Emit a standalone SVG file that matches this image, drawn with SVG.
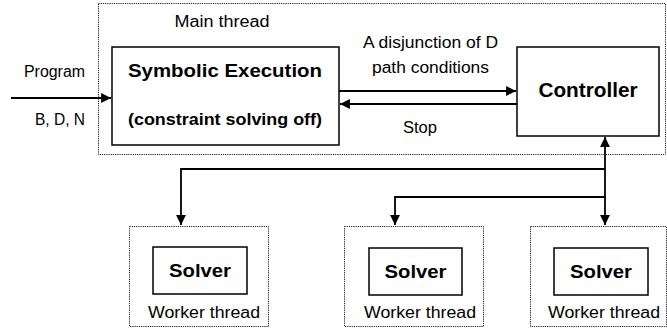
<svg xmlns="http://www.w3.org/2000/svg" width="667" height="331" viewBox="0 0 667 331">
<style>
.bg{fill:#ffffff}
.dot{fill:none;stroke:#222;stroke-width:1;stroke-dasharray:1.2,1}
.box{fill:#ffffff;stroke:#000;stroke-width:1.5}
.ln{fill:none;stroke:#000;stroke-width:1.8}
.t{font-family:"Liberation Sans",Arial,sans-serif;font-size:16px;fill:#000}
.b{font-family:"Liberation Sans",Arial,sans-serif;font-weight:bold;fill:#000}
</style>
<defs>
<marker id="ah" viewBox="0 0 10 10" refX="10" refY="5" markerWidth="5.5" markerHeight="5.5" orient="auto-start-reverse" markerUnits="strokeWidth">
<path d="M0,0 L10,5 L0,10 z" fill="#000"/>
</marker>
</defs>
<rect class="bg" x="0" y="0" width="667" height="331"/>
<g id="main-thread">
<rect class="dot" x="98.5" y="3.5" width="567" height="151"/>
<text class="t" x="222" y="27" text-anchor="middle" textLength="95" lengthAdjust="spacingAndGlyphs">Main thread</text>
</g>
<g id="symbolic-execution">
<rect class="box" x="112" y="47" width="227" height="98"/>
<text class="b" x="225" y="77" font-size="19" text-anchor="middle" textLength="194" lengthAdjust="spacingAndGlyphs">Symbolic Execution</text>
<text class="b" x="225" y="125" font-size="16" text-anchor="middle" textLength="194" lengthAdjust="spacingAndGlyphs">(constraint solving off)</text>
</g>
<g id="controller">
<rect class="box" x="517" y="47" width="142" height="89"/>
<text class="b" x="588" y="97" font-size="20" text-anchor="middle" textLength="99" lengthAdjust="spacingAndGlyphs">Controller</text>
</g>
<g id="worker1">
<rect class="dot" x="129.5" y="226.5" width="139" height="100"/>
<rect class="box" x="153" y="247" width="94" height="47"/>
<text class="b" x="200" y="277" font-size="19" text-anchor="middle" textLength="62" lengthAdjust="spacingAndGlyphs">Solver</text>
<text class="t" x="204" y="318" text-anchor="middle" textLength="112" lengthAdjust="spacingAndGlyphs">Worker thread</text>
</g>
<g id="worker2">
<rect class="dot" x="344.5" y="226.5" width="139" height="100"/>
<rect class="box" x="369" y="248" width="93" height="47"/>
<text class="b" x="415.5" y="278" font-size="19" text-anchor="middle" textLength="62" lengthAdjust="spacingAndGlyphs">Solver</text>
<text class="t" x="420" y="318" text-anchor="middle" textLength="112" lengthAdjust="spacingAndGlyphs">Worker thread</text>
</g>
<g id="worker3">
<rect class="dot" x="530.5" y="226.5" width="136" height="100"/>
<rect class="box" x="554" y="248" width="94" height="47"/>
<text class="b" x="601" y="278" font-size="19" text-anchor="middle" textLength="62" lengthAdjust="spacingAndGlyphs">Solver</text>
<text class="t" x="604" y="318" text-anchor="middle" textLength="112" lengthAdjust="spacingAndGlyphs">Worker thread</text>
</g>
<g id="connectors">
<line class="ln" x1="11" y1="98" x2="111" y2="98" marker-end="url(#ah)"/>
<line class="ln" x1="339" y1="91" x2="516" y2="91" marker-end="url(#ah)"/>
<line class="ln" x1="517" y1="104" x2="340" y2="104" marker-end="url(#ah)"/>
<line class="ln" x1="605" y1="225" x2="605" y2="137" marker-start="url(#ah)" marker-end="url(#ah)"/>
<polyline class="ln" points="605,169 181,169 181,225" marker-end="url(#ah)"/>
<polyline class="ln" points="605,197 395,197 395,225" marker-end="url(#ah)"/>
<text class="t" x="54.5" y="77" text-anchor="middle" textLength="61" lengthAdjust="spacingAndGlyphs">Program</text>
<text class="t" x="60" y="125" text-anchor="middle" textLength="50" lengthAdjust="spacingAndGlyphs">B, D, N</text>
<text class="t" x="430.5" y="48" text-anchor="middle" textLength="135" lengthAdjust="spacingAndGlyphs">A disjunction of D</text>
<text class="t" x="430.5" y="73" text-anchor="middle" textLength="117" lengthAdjust="spacingAndGlyphs">path conditions</text>
<text class="t" x="420" y="133" text-anchor="middle" textLength="34" lengthAdjust="spacingAndGlyphs">Stop</text>
</g>
</svg>
